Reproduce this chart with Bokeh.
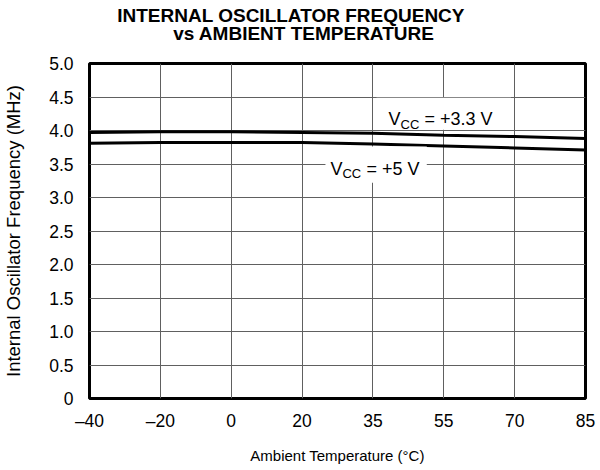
from bokeh.plotting import figure
from bokeh.layouts import column
from bokeh.models import Range1d, FixedTicker, Label, BoxAnnotation
from bokeh.core.properties import value
from bokeh.embed import file_html
from bokeh.resources import INLINE

# ---- data ----
temps = ["\u201340", "\u201320", "0", "20", "35", "55", "70", "85"]
freq_3v3 = [3.97, 3.98, 3.98, 3.97, 3.96, 3.93, 3.91, 3.88]
freq_5v = [3.81, 3.82, 3.82, 3.82, 3.80, 3.77, 3.74, 3.71]
y_ticks = [0, 0.5, 1.0, 1.5, 2.0, 2.5, 3.0, 3.5, 4.0, 4.5, 5.0]
y_tick_labels = ["0", "0.5", "1.0", "1.5", "2.0", "2.5", "3.0", "3.5", "4.0", "4.5", "5.0"]
title_lines = ["INTERNAL OSCILLATOR FREQUENCY", "vs AMBIENT TEMPERATURE"]

FONT = "Liberation Sans"
W = 591
FW = 496
xs = list(range(len(temps)))

# ---- title strip (its frame is aligned with the chart frame by the column) ----
TH = 46
tp = figure(width=W, height=TH, output_backend="svg", toolbar_location=None,
            x_range=Range1d(0, FW), y_range=Range1d(0, TH),
            x_axis_type=None, y_axis_type=None, min_border=0,
            background_fill_color="white", border_fill_color="white")
tp.outline_line_color = None
tp.grid.visible = False
tp.text(x=[204, 217], y=[31, 13], text=title_lines,
        text_align="center", text_baseline="alphabetic",
        text_font=value(FONT), text_font_size="19px", text_font_style="bold",
        text_color="black")

# ---- main chart ----
p = figure(
    title=None,
    frame_width=FW, frame_height=335,
    output_backend="svg", toolbar_location=None,
    x_range=Range1d(xs[0], xs[-1]), y_range=Range1d(y_ticks[0], y_ticks[-1]),
    min_border_left=0, min_border_right=12, min_border_top=17, min_border_bottom=0,
    background_fill_color="white", border_fill_color="white",
)

p.outline_line_color = "black"
p.outline_line_width = 3
p.outline_line_alpha = 1.0

for g in (p.xgrid, p.ygrid):
    g.grid_line_color = "#606060"
    g.grid_line_width = 1
p.xgrid.ticker = FixedTicker(ticks=xs)
p.ygrid.ticker = FixedTicker(ticks=y_ticks)

xa = p.xaxis[0]
xa.ticker = FixedTicker(ticks=xs)
xa.major_label_overrides = {x: t for x, t in zip(xs, temps)}
xa.axis_label = "Ambient Temperature (\u00b0C)"

ya = p.yaxis[0]
ya.ticker = FixedTicker(ticks=y_ticks)
ya.major_label_overrides = {v: t for v, t in zip(y_ticks, y_tick_labels)}
ya.axis_label = "Internal Oscillator Frequency (MHz)"

for ax in (xa, ya):
    ax.axis_line_color = None
    ax.major_tick_line_color = None
    ax.minor_tick_line_color = None
    ax.major_tick_in = 0
    ax.major_tick_out = 0
    ax.major_label_text_font = FONT
    ax.major_label_text_font_size = "17.5px"
    ax.major_label_text_color = "black"
    ax.axis_label_text_font = FONT
    ax.axis_label_text_font_style = "normal"
    ax.axis_label_text_color = "black"

xa.axis_label_text_font_size = "15px"
ya.axis_label_text_font_size = "18.5px"
xa.major_label_standoff = 12
xa.axis_label_standoff = 13
ya.major_label_standoff = 16
ya.axis_label_standoff = 22

p.line(xs, freq_3v3, line_color="black", line_width=3)
p.line(xs, freq_5v, line_color="black", line_width=3)

# white backgrounds behind labels (hide grid lines)
p.add_layout(BoxAnnotation(left=4.05, right=5.95, bottom=4.01, top=4.49,
                           fill_color="white", fill_alpha=1.0, line_color=None))
p.add_layout(BoxAnnotation(left=3.33, right=4.76, bottom=3.22, top=3.76,
                           fill_color="white", fill_alpha=1.0, line_color=None))

def vcc_label(x, y, rest):
    common = dict(x=x, y=y, text_font=FONT, text_color="black", text_baseline="alphabetic")
    p.add_layout(Label(text="V", text_font_size="18px", **common))
    p.add_layout(Label(text="CC", text_font_size="13px", x_offset=12, y_offset=-5, **common))
    p.add_layout(Label(text=rest, text_font_size="18px", x_offset=36, **common))

vcc_label(4.22, 4.17, "= +3.3 V")
vcc_label(3.40, 3.43, "= +5 V")

layout = column(tp, p, spacing=0)
open("out.html", "w").write(file_html(layout, INLINE))
